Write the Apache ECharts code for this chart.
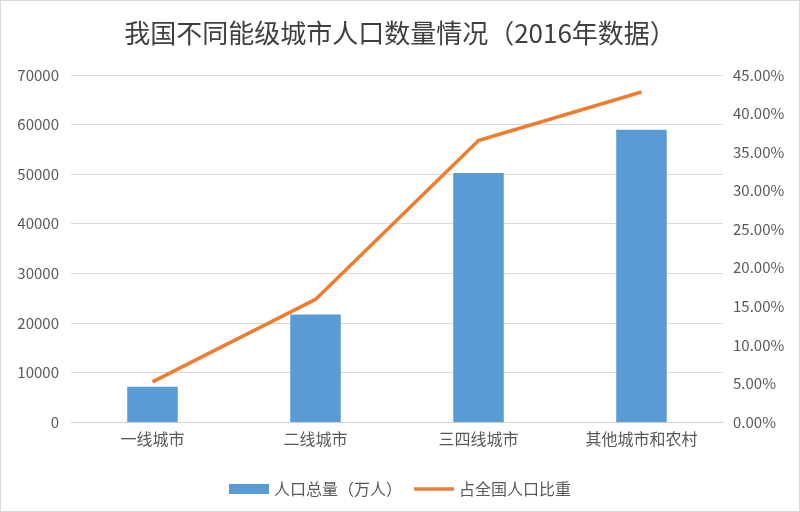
<!DOCTYPE html>
<html>
<head>
<meta charset="utf-8">
<script src="https://cdn.jsdelivr.net/npm/echarts@6/dist/echarts.min.js"></script>
<style>
html, body { margin: 0; padding: 0; background: #fff; }
#container { width: 798px; height: 510px; border: 1px solid #d9d9d9; }
</style>
</head>
<body>
<div id="container"></div>
<script>
var categories = ['一线城市', '二线城市', '三四线城市', '其他城市和农村'];
var population = [7100, 21700, 50250, 58950];
var share = [0.052, 0.159, 0.365, 0.428];

var dom = document.getElementById("container");
var myChart = echarts.init(dom);
var labelColor = '#595959';
var font = '"Noto Sans CJK SC", "Noto Sans", sans-serif';

var option = {
    animation: false,
    title: {
        text: '我国不同能级城市人口数量情况（2016年数据）',
        left: 'center',
        top: 14,
        textStyle: { fontFamily: font, fontSize: 26, fontWeight: 'normal', color: '#3f3f3f' }
    },
    legend: {
        left: 'center',
        top: 475,
        itemWidth: 40,
        itemHeight: 10,
        itemGap: 12,
        textStyle: { fontFamily: font, fontSize: 16, color: labelColor },
        data: [
            { name: '人口总量（万人）', icon: 'rect' },
            { name: '占全国人口比重', icon: 'path://M0,0 L40,0 L40,3.5 L0,3.5 Z' }
        ]
    },
    grid: { left: 70, right: 76, top: 74, bottom: 89 },
    xAxis: [{
        type: 'category',
        data: categories,
        axisTick: { show: false },
        axisLine: { lineStyle: { color: '#d0d0d0', width: 1 } },
        axisLabel: { fontFamily: font, fontSize: 16, color: labelColor, margin: 9 }
    }],
    yAxis: [
        {
            type: 'value',
            min: 0, max: 70000, interval: 10000,
            axisLine: { show: false },
            axisTick: { show: false },
            splitLine: { lineStyle: { color: '#d9d9d9', width: 1 } },
            axisLabel: {
                fontFamily: font, fontSize: 15, color: labelColor, margin: 12,
                formatter: function (v) { return String(v); }
            }
        },
        {
            type: 'value',
            min: 0, max: 0.45, interval: 0.05,
            axisLine: { show: false },
            axisTick: { show: false },
            splitLine: { show: false },
            axisLabel: {
                fontFamily: font, fontSize: 15, color: labelColor, margin: 10,
                formatter: function (v) { return (v * 100).toFixed(2) + '%'; }
            }
        }
    ],
    series: [
        {
            name: '人口总量（万人）',
            type: 'bar',
            barWidth: '31%',
            itemStyle: { color: '#5b9bd5' },
            data: population
        },
        {
            name: '占全国人口比重',
            type: 'line',
            yAxisIndex: 1,
            symbol: 'none',
            lineStyle: { color: '#ed7d31', width: 3.5 },
            itemStyle: { color: '#ed7d31' },
            data: share
        }
    ]
};
myChart.setOption(option);
</script>
</body>
</html>
